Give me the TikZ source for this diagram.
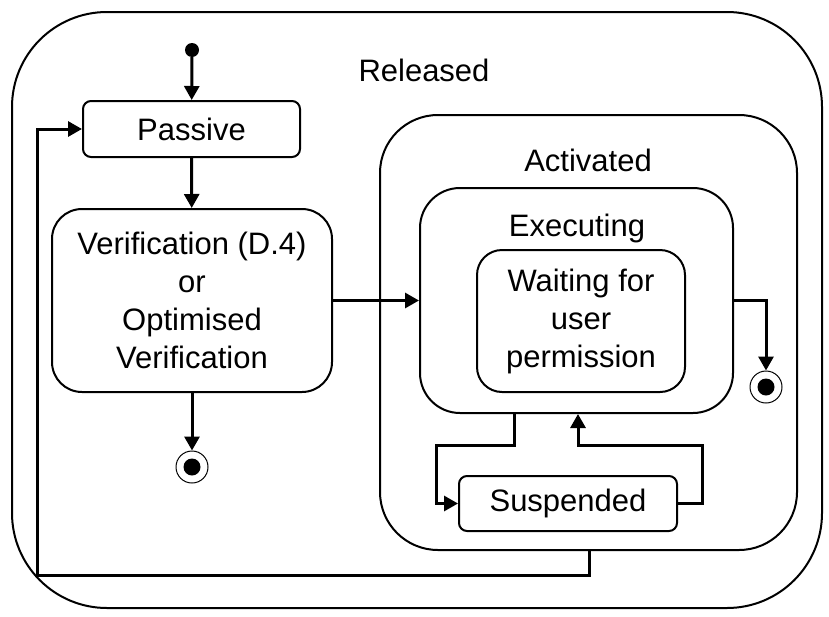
\documentclass[tikz,border=0pt]{standalone}
\usepackage{fontspec}
\setmainfont{Liberation Sans}
\usepackage{tikz}
\usetikzlibrary{arrows.meta}

\begin{document}
\begin{tikzpicture}[x=1pt, y=-1pt,
		txt/.style={font=\fontsize{31}{38}\selectfont, align=center},
		state/.style={rectangle, draw=black, line width=2pt, inner sep=0pt},
		arr/.style={line width=3pt, -{Triangle[length=14pt,width=15pt]}},
		final/.style={
			circle, draw=black, line width=1pt, minimum size=32pt, inner sep=0pt,
			path picture={\fill (path picture bounding box.center) circle (8.5pt);}
		}
	]
		\useasboundingbox (0,0) rectangle (829,616);

		% outer states
		\node[state, rounded corners=95pt, minimum width=810pt, minimum height=596pt] (Rel) at (417,310) {};
		\node[txt] (RelL) at (424,70) {Released};

		\node[state, rounded corners=58pt, minimum width=417pt, minimum height=435pt] (Act) at (588.5,332.5) {};
		\node[txt] (ActL) at (588,160) {Activated};

		\node[state, rounded corners=40pt, minimum width=313pt, minimum height=225pt] (Exec) at (576.5,300.5) {};
		\node[txt] (ExecL) at (577,228) {Executing};

		% simple states
		\node[state, txt, rounded corners=8pt, minimum width=217pt, minimum height=56pt] (Pass) at (191.5,129) {Passive};
		\node[state, txt, rounded corners=30pt, minimum width=280pt, minimum height=183pt] (Verif) at (192,300.5)
			{Verification (D.4)\\or\\Optimised\\Verification};
		\node[state, txt, rounded corners=25pt, minimum width=208pt, minimum height=142pt] (Wait) at (581,321)
			{Waiting for\\user\\permission};
		\node[state, txt, rounded corners=8pt, minimum width=218pt, minimum height=55pt] (Susp) at (568,503.5) {Suspended};

		% pseudo states
		\node[circle, fill=black, inner sep=0pt, minimum size=14pt] (Init) at (192,50) {};
		\node[final] (Fin1) at (192,467) {};
		\node[final] (Fin2) at (766,387) {};

		\coordinate (ea) at (766,300);
		\coordinate (sa) at (514,445);
		\coordinate (sb) at (436,445);
		\coordinate (ra) at (702,445);
		\coordinate (rb) at (578,445);
		\coordinate (ba) at (589,575);
		\coordinate (bb) at (37,575);

		\draw[arr] (Init) -- (Pass);
		\draw[arr] (Pass) -- (Verif);
		\draw[arr] (Verif) -- (Fin1);
		\draw[arr] (Verif.east) -- (Exec.west |- Verif.east);
		\draw[arr] (Exec.east |- ea) -- (ea) -- (Fin2);
		\draw[arr] (Exec.south -| sa) -- (sa) -- (sb) |- (Susp.west);
		\draw[arr] (Susp.east) -| (ra) -- (rb) -- (Exec.south -| rb);
		\draw[arr] (Act.south -| ba) -- (ba) -- (bb) |- (Pass.west);
	\end{tikzpicture}
\end{document}
